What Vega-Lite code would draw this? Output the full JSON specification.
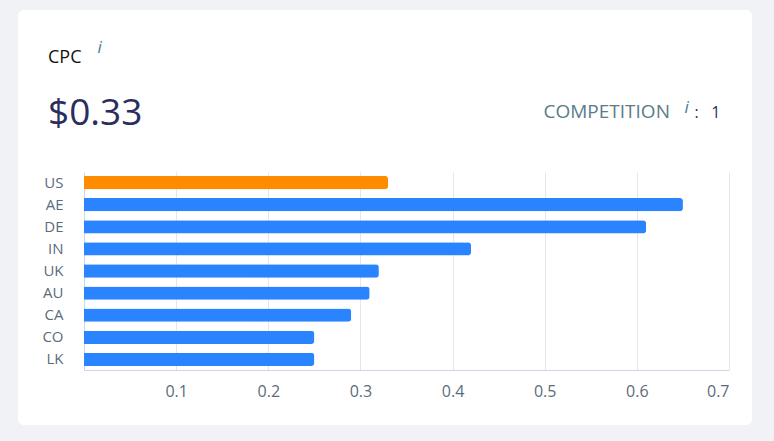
{
  "$schema": "https://vega.github.io/schema/vega-lite/v6.json",
  "width": 734,
  "height": 415,
  "autosize": "none",
  "padding": {"left": 18, "top": 10, "right": 22, "bottom": 16},
  "background": "#f0f2f6",
  "config": {
    "font": "Open Sans",
    "view": {"fill": "#ffffff", "stroke": null, "cornerRadius": 6}
  },
  "title": {
    "text": "CPC",
    "subtitle": "$0.33",
    "anchor": "start",
    "frame": "group",
    "orient": "top",
    "dx": 30,
    "offset": -122,
    "fontSize": 18,
    "fontWeight": "normal",
    "color": "#111111",
    "subtitleFontSize": 37,
    "subtitleColor": "#2b2e5c",
    "subtitlePadding": 29
  },
  "data": {
    "values": [
      {"country": "US", "cpc": 0.33},
      {"country": "AE", "cpc": 0.65},
      {"country": "DE", "cpc": 0.61},
      {"country": "IN", "cpc": 0.42},
      {"country": "UK", "cpc": 0.32},
      {"country": "AU", "cpc": 0.31},
      {"country": "CA", "cpc": 0.29},
      {"country": "CO", "cpc": 0.25},
      {"country": "LK", "cpc": 0.25}
    ]
  },
  "layer": [
    {
      "mark": {"type": "bar", "cornerRadiusEnd": 3},
      "encoding": {
        "y": {
          "field": "country",
          "type": "nominal",
          "sort": null,
          "scale": {"range": [162, 360], "paddingInner": 0.4, "paddingOuter": 0.18},
          "axis": {
            "title": "i",
            "titleX": 13,
            "titleY": 42,
            "titleAngle": 0,
            "titleAlign": "left",
            "titleBaseline": "alphabetic",
            "titleFontStyle": "italic",
            "titleFontWeight": "normal",
            "titleFontSize": 17,
            "titleColor": "#4a7b90",
            "offset": -66,
            "ticks": false,
            "grid": false,
            "labelPadding": 21,
            "labelFontSize": 15,
            "labelColor": "#5b6c7c",
            "domainColor": "#ccd6eb"
          }
        },
        "x": {
          "field": "cpc",
          "type": "quantitative",
          "scale": {"domain": [0, 0.7], "range": [66, 711], "nice": false, "zero": true},
          "axis": {
            "title": "COMPETITION",
            "titleX": 525,
            "titleY": -253,
            "titleAlign": "left",
            "titleBaseline": "alphabetic",
            "titleFontWeight": "normal",
            "titleFontSize": 19,
            "titleColor": "#5b7b8a",
            "values": [0.1, 0.2, 0.3, 0.4, 0.5, 0.6, 0.7],
            "format": ".1f",
            "offset": -55,
            "ticks": false,
            "grid": false,
            "domainColor": "#ccd6eb",
            "labelPadding": 13,
            "labelFontSize": 16,
            "labelColor": "#5b6c7c",
            "labelFlush": true
          }
        },
        "color": {
          "condition": {"test": "datum.country === 'US'", "value": "#ff8c00"},
          "value": "#2b84ff"
        }
      }
    },
    {
      "mark": {"type": "bar", "opacity": 0},
      "encoding": {
        "y": {
          "field": "country",
          "type": "nominal",
          "sort": null,
          "scale": {"range": [162, 360], "paddingInner": 0.4, "paddingOuter": 0.18},
          "axis": {
            "orient": "right",
            "title": ":\u00a0\u00a0\u00a01",
            "titleX": -58,
            "titleY": 107,
            "titleAngle": 0,
            "titleAlign": "left",
            "titleBaseline": "alphabetic",
            "titleFontWeight": "normal",
            "titleFontSize": 16,
            "titleColor": "#2b2e5c",
            "labels": false,
            "ticks": false,
            "domain": false,
            "grid": false
          }
        },
        "x": {
          "field": "cpc",
          "type": "quantitative",
          "scale": {"domain": [0, 0.7], "range": [66, 711], "nice": false, "zero": true},
          "axis": {
            "orient": "top",
            "title": "i",
            "titleX": 666,
            "titleY": 102,
            "titleAlign": "left",
            "titleBaseline": "alphabetic",
            "titleFontStyle": "italic",
            "titleFontWeight": "normal",
            "titleFontSize": 17,
            "titleColor": "#4a7b90",
            "values": [0.1, 0.2, 0.3, 0.4, 0.5, 0.6, 0.7],
            "labels": false,
            "ticks": false,
            "domain": false,
            "grid": true,
            "gridColor": "#e6e6e6"
          }
        }
      }
    }
  ],
  "resolve": {
    "scale": {"x": "independent", "y": "independent"},
    "axis": {"x": "independent", "y": "independent"}
  }
}
